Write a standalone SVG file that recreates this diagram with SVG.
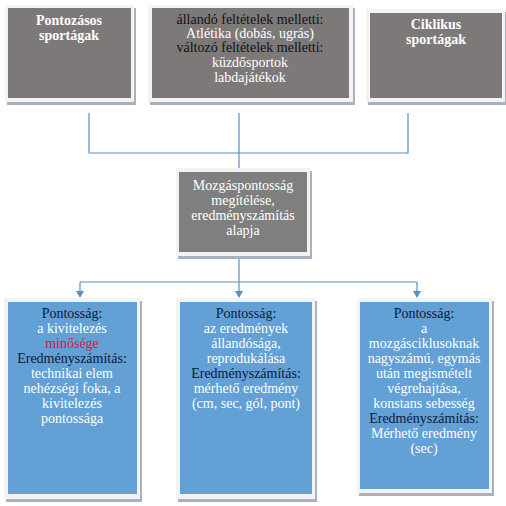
<svg xmlns="http://www.w3.org/2000/svg" width="506" height="506" viewBox="0 0 506 506">
<defs>
<style>
.sh{fill:#a7b1bf}
.fr{fill:#f3f3f3}
.g1{fill:#7e7979}
.g2{fill:#7f7f7f}
.bl{fill:#62a0d6}
text{font-family:"Liberation Serif","Times New Roman",serif;font-size:14px;text-anchor:middle}
.w{fill:#ffffff}
.b{fill:#111111}
.n{fill:#0c1a3a}
.r{fill:#e0143c}
.bold{font-weight:bold}
.c{fill:none;stroke:#5b8ec4;stroke-width:1.2}
</style>
<marker id="ah" markerWidth="8" markerHeight="8" refX="4" refY="7" orient="auto" markerUnits="userSpaceOnUse" viewBox="0 0 8 8">
<path d="M0.5,1 L7.5,1 L4,7 Z" fill="#5b8ec4" transform="rotate(-90 4 4)"/>
</marker>
</defs>
<rect width="506" height="506" fill="#ffffff"/>
<g id="connectors">
<path class="c" d="M89,113 V153 H408 V113"/>
<path class="c" d="M239,113 V168"/>
<path class="c" d="M239,256 V282"/>
<path class="c" d="M80,282 H417"/>
<path class="c" d="M80,282 V292"/>
<path class="c" d="M239,282 V292"/>
<path class="c" d="M417,282 V292"/>
<path d="M76,291 L84,291 L80,298 Z" fill="#5b8ec4"/>
<path d="M235,291 L243,291 L239,298 Z" fill="#5b8ec4"/>
<path d="M413,291 L421,291 L417,298 Z" fill="#5b8ec4"/>
</g>
<g id="top1">
<rect class="sh" x="7" y="8" width="129" height="97"/>
<rect class="fr" x="5" y="5" width="129" height="97"/>
<rect class="g1" x="8" y="8" width="123" height="90"/>
<text class="w bold" x="69" y="25">Pontozásos</text>
<text class="w bold" x="69" y="40">sportágak</text>
</g>
<g id="top2">
<rect class="sh" x="150" y="8" width="205" height="97"/>
<rect class="fr" x="148" y="5" width="205" height="97"/>
<rect class="g1" x="152" y="8" width="197" height="90"/>
<text class="b" x="250" y="24">állandó feltételek melletti:</text>
<text class="w" x="250" y="38">Atlétika (dobás, ugrás)</text>
<text class="b" x="250" y="52">változó feltételek melletti:</text>
<text class="w" x="250" y="67">küzdősportok</text>
<text class="w" x="250" y="82">labdajátékok</text>
</g>
<g id="top3">
<rect class="sh" x="368" y="12" width="139" height="93"/>
<rect class="fr" x="366" y="9" width="139" height="93"/>
<rect class="g1" x="370" y="13" width="132" height="85"/>
<text class="w bold" x="436" y="29">Ciklikus</text>
<text class="w bold" x="436" y="44">sportágak</text>
</g>
<g id="center">
<rect class="sh" x="178" y="171" width="134" height="88"/>
<rect class="fr" x="176" y="168" width="134" height="88"/>
<rect class="g2" x="179" y="172" width="128" height="80"/>
<text class="w" x="243" y="190">Mozgáspontosság</text>
<text class="w" x="243" y="205">megítélése,</text>
<text class="w" x="243" y="220">eredményszámítás</text>
<text class="w" x="243" y="235">alapja</text>
</g>
<g id="bottom1">
<rect class="sh" x="6" y="301" width="136" height="201"/>
<rect class="fr" x="4" y="298" width="136" height="201"/>
<rect class="bl" x="8" y="302" width="129" height="192"/>
<text class="n" x="72" y="318">Pontosság:</text>
<text class="w" x="72" y="333">a kivitelezés</text>
<text class="r" x="72" y="348">minősége</text>
<text class="n" x="72" y="363">Eredményszámítás:</text>
<text class="w" x="72" y="378">technikai elem</text>
<text class="w" x="72" y="393">nehézségi foka, a</text>
<text class="w" x="72" y="408">kivitelezés</text>
<text class="w" x="72" y="423">pontossága</text>
</g>
<g id="bottom2">
<rect class="sh" x="178" y="301" width="139" height="201"/>
<rect class="fr" x="176" y="298" width="139" height="201"/>
<rect class="bl" x="180" y="302" width="132" height="192"/>
<text class="n" x="246" y="318">Pontosság:</text>
<text class="w" x="246" y="333">az eredmények</text>
<text class="w" x="246" y="348">állandósága,</text>
<text class="w" x="246" y="363">reprodukálása</text>
<text class="n" x="246" y="378">Eredményszámítás:</text>
<text class="w" x="246" y="393">mérhető eredmény</text>
<text class="w" x="246" y="408">(cm, sec, gól, pont)</text>
</g>
<g id="bottom3">
<rect class="sh" x="359" y="301" width="135" height="195"/>
<rect class="fr" x="357" y="298" width="135" height="195"/>
<rect class="bl" x="360" y="302" width="129" height="187"/>
<text class="n" x="424" y="318">Pontosság:</text>
<text class="w" x="424" y="333">a</text>
<text class="w" x="424" y="348">mozgásciklusoknak</text>
<text class="w" x="424" y="363">nagyszámú, egymás</text>
<text class="w" x="424" y="378">után megismételt</text>
<text class="w" x="424" y="393">végrehajtása,</text>
<text class="w" x="424" y="408">konstans sebesség</text>
<text class="n" x="424" y="423">Eredményszámítás:</text>
<text class="w" x="424" y="438">Mérhető eredmény</text>
<text class="w" x="424" y="453">(sec)</text>
</g>
</svg>
